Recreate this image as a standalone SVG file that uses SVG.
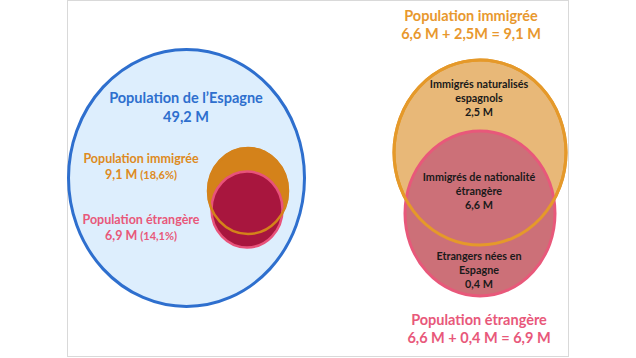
<svg xmlns="http://www.w3.org/2000/svg" width="636" height="358" viewBox="0 0 636 358">
<style>
text{font-family:Lato,"Liberation Sans",sans-serif;font-weight:bold;text-anchor:middle}
.t14{font-size:14.5px}
.t12{font-size:12.5px}
.t10{font-size:10.8px;fill:#1a1a1a}
.sm{font-size:11px}
.or{fill:#e8982e}
.ol{fill:#dd8a22}
.bl{fill:#2e6fce}
.pk{fill:#e8587a}
</style>
<rect x="67.5" y="0.5" width="501" height="356" fill="#fff" stroke="#d9d9d9" stroke-width="1"/>
<g id="espagne">
<ellipse cx="186.5" cy="178" rx="118" ry="128.5" fill="#ddeefd" stroke="#2e6fce" stroke-width="3"/>
<text class="t14 bl" x="186" y="103">Population de l’Espagne</text>
<text class="t14 bl" x="186" y="122">49,2 M</text>
</g>
<g id="immigree-left">
<ellipse cx="248" cy="191" rx="41" ry="44" fill="#d4821a"/>
<text class="t12 ol" x="141" y="163">Population immigrée</text>
<text class="t12 ol" x="141" y="179">9,1 M <tspan class="sm">(18,6%)</tspan></text>
</g>
<g id="etrangere-left">
<ellipse cx="247" cy="209.5" rx="35.5" ry="38" fill="#a8163e" stroke="#e8527a" stroke-width="2.5"/>
<ellipse cx="248" cy="191" rx="40" ry="43" fill="none" stroke="#d4821a" stroke-width="2.5"/>
<text class="t12 pk" x="141" y="224">Population étrangère</text>
<text class="t12 pk" x="141" y="240">6,9 M <tspan class="sm">(14,1%)</tspan></text>
</g>
<g id="immigree-right">
<ellipse cx="480" cy="152.5" rx="86" ry="92.5" fill="#e8b878" stroke="#e5992a" stroke-width="3"/>
<text class="t14 or" x="471" y="21">Population immigrée</text>
<text class="t14 or" x="471" y="39">6,6 M + 2,5M = 9,1 M</text>
<text class="t10" x="479" y="88">Immigrés naturalisés</text>
<text class="t10" x="479" y="102">espagnols</text>
<text class="t10" x="479" y="116">2,5 M</text>
</g>
<g id="etrangere-right">
<ellipse cx="480" cy="213.5" rx="75" ry="82.5" fill="#cc7078" stroke="#e8587a" stroke-width="3"/>
<ellipse cx="480" cy="152.5" rx="86" ry="92.5" fill="none" stroke="#e5992a" stroke-width="3"/>
<text class="t10" x="479" y="181">Immigrés de nationalité</text>
<text class="t10" x="479" y="195">étrangère</text>
<text class="t10" x="479" y="209">6,6 M</text>
<text class="t10" x="479" y="260">Etrangers nées en</text>
<text class="t10" x="479" y="274">Espagne</text>
<text class="t10" x="479" y="288">0,4 M</text>
<text class="t14 pk" x="479" y="325">Population étrangère</text>
<text class="t14 pk" x="479" y="343">6,6 M + 0,4 M = 6,9 M</text>
</g>
<g id="connectors"/>
</svg>
